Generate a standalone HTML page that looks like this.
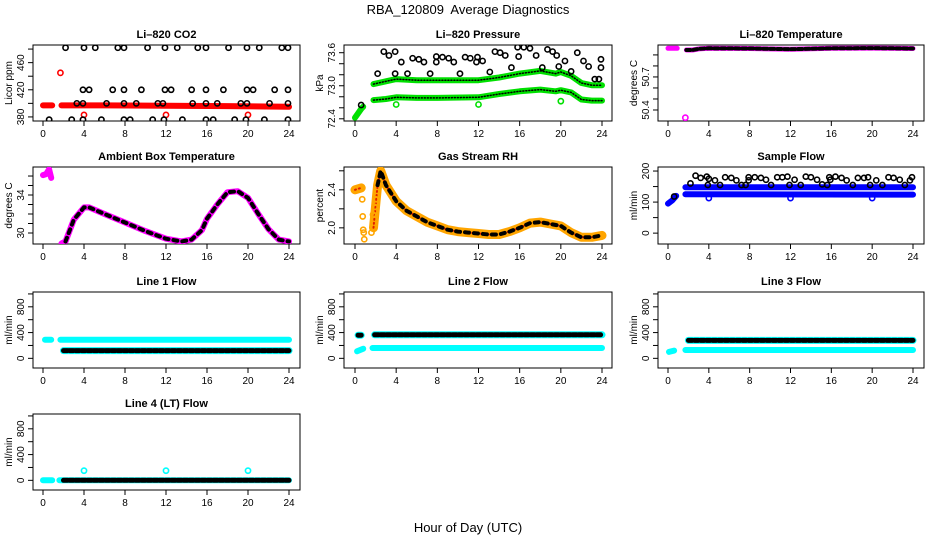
<!DOCTYPE html>
<html><head><meta charset="utf-8">
<style>
html,body{margin:0;padding:0;background:#fff;}
svg{display:block;font-family:"Liberation Sans",sans-serif;}
</style></head>
<body>
<svg id="c" width="936" height="540" viewBox="0 0 936 540">
<text x="468" y="14" text-anchor="middle" font-size="13">RBA_120809&#160; Average Diagnostics</text>
<text x="468" y="532" text-anchor="middle" font-size="13">Hour of Day (UTC)</text>
</svg>
<script>
// ---- data ----
const xTicks = [0,4,8,12,16,20,24];
// CO2
const co2RedH = [0,0.9,null,1.8,6,12,18,24];
const co2RedV = [397,397,null,397,397,396.5,396,395];
const co2RedOutH = [1.7,4,12,20];
const co2RedOutV = [445,383,383,383];
const co2BlkH = [2.2,4,5.1,7.3,7.9,10.2,11.9,13.1,15.1,15.9,18.1,19.9,21.1,23.3,23.9, 3.9,4.5,6.8,7.9,9.6,11.9,12.5,14.5,15.9,17.6,19.9,20.5,22.6,23.9, 3.3,3.9,6.2,7.9,9.1,11.2,11.7,14.6,15.9,17,19.3,19.9,22.1,23.9, 0.6,2.8,3.9,5.7,7.9,8.5,10.7,11.8,13.6,15.9,16.6,18.7,19.8,21.6,23.9];
const co2BlkV = [482,482,482,482,482,482,482,482,482,482,482,482,482,482,482, 420,420,420,420,420,420,420,420,420,420,420,420,420,420, 400,400,400,400,400,400,400,400,400,400,400,400,400,400, 376,376,376,376,376,376,376,376,376,376,376,376,376,376,376];
// Pressure
const prUpH = [0,0.3,0.6,0.8,null,1.8,3,4,6,8,12,14,16,18,19.5,20,21,22,23,24];
const prUpV = [72.42,72.5,72.58,72.62,null,73.03,73.08,73.12,73.1,73.1,73.1,73.15,73.22,73.27,73.22,73.25,73.18,73.05,73.01,73.01];
const prLoH = [1.8,3,4,6,8,12,14,16,18,19.5,20,21,22,23,24];
const prLoV = [72.74,72.76,72.79,72.78,72.78,72.79,72.85,72.9,72.93,72.9,72.92,72.88,72.75,72.73,72.73];
const prBlkH = [0.6,2.2,2.8,3.3,3.9,3.9,4.5,5.1,5.6,6.2,6.7,7.3,7.9,7.9,8.5,9.1,9.6,10.2,10.7,11.2,11.8,11.9,12.4,13.1,13.6,14.1,14.6,15.2,15.8,15.9,16.4,17,17.6,18.2,18.7,19.2,19.6,19.8,20.4,21,21.6,22.2,22.7,23.3,23.7,23.9,23.9];
const prBlkV = [72.65,73.22,73.62,73.55,73.62,73.22,73.43,73.22,73.5,73.48,73.43,73.22,73.53,73.43,73.52,73.5,73.43,73.22,73.52,73.5,73.43,73.52,73.45,73.25,73.62,73.6,73.55,73.33,73.7,73.53,73.7,73.68,73.55,73.33,73.66,73.62,73.55,73.35,73.45,73.26,73.6,73.45,73.35,73.12,73.12,73.33,73.48];
const prGrnOutH = [4,12,20];
const prGrnOutV = [72.66,72.66,72.72];
// Li-820 temperature
const tmpH = [0,0.9,null,1.8,2.4,3,4,8,12,16,20,24];
const tmpV = [50.96,50.96,null,50.945,50.945,50.955,50.96,50.958,50.952,50.96,50.962,50.958];
const tmpOutH = [1.7];
const tmpOutV = [50.33];
// Ambient box temperature
const ambH = [0,0.3,0.6,0.8,null,1.8,2.2,3,4,4.5,6,8,10,12,13.5,14.5,15.5,16,17,18,19,20,21,22,23,24];
const ambV = [36.1,36.2,36.7,35.8,null,28.9,29.1,31.4,32.7,32.7,32.0,31.1,30.2,29.4,29.1,29.3,30.3,31.5,33.0,34.3,34.4,33.7,32.0,30.4,29.3,29.1];
// Gas stream RH
const rhH = [0,0.6,null,1.8,2.2,2.5,3,4,5,6,7,8,9,10,11,12,13,14,15,16,17,18,19,20,21,22,23,24];
const rhV = [2.4,2.42,null,2.0,2.45,2.6,2.45,2.28,2.18,2.12,2.06,2.02,1.98,1.96,1.95,1.94,1.93,1.93,1.96,2.0,2.05,2.06,2.04,2.02,1.95,1.9,1.9,1.92];
const rhScatH = [0.7,0.75,0.8,0.85,0.9,1.6,1.75,1.9,2.0];
const rhScatV = [2.3,2.12,1.98,1.95,1.88,1.95,2.14,2.22,2.3];
// Sample flow
const sfUpH = [0,0.4,0.8,null,1.7,24];
const sfUpV = [95,105,120,null,148,148];
const sfLoH = [1.7,24];
const sfLoV = [125,124];
const sfBlkH = [0.6,2.2,2.7,3.2,3.8,3.9,4.0,4.6,5.1,5.6,6.2,6.7,7.2,7.6,7.9,7.9,8.5,9.1,9.6,10.1,10.7,11.2,11.7,11.9,12.4,13,13.5,14,14.6,15.1,15.6,15.8,15.9,16.4,17,17.5,18.1,18.6,19.2,19.6,19.8,20.4,21,21.6,22.1,22.7,23.2,23.7,23.9];
const sfBlkV = [118,160,185,178,182,155,175,170,155,180,178,170,155,155,180,170,180,178,172,155,180,180,182,155,172,155,182,180,172,157,155,180,172,182,178,170,155,178,178,180,155,170,155,180,178,172,155,170,180];
const sfOutH = [4,12,20];
const sfOutV = [113,113,113];
// Line flows
const l1CyanH = [0.2,0.8,null,1.7,24];
const l1CyanV = [290,290,null,290,290];
const l1BlkH = [0.5,null,2,24];
const l1BlkV = [120,null,120,120];
const l2CyanH = [0.2,0.8,null,1.7,24];
const l2CyanV = [110,150,null,160,160];
const l2BlkH = [0.3,0.6,null,1.9,24];
const l2BlkV = [360,360,null,365,365];
const l3CyanH = [0.1,0.6,null,1.7,24];
const l3CyanV = [100,120,null,130,130];
const l3BlkH = [0.5,null,2,24];
const l3BlkV = [275,null,278,278];
const l4CyanH = [0,0.9,null,1.6,24];
const l4CyanV = [0,0,null,0,0];
const l4BlkH = [0.5,null,2,24];
const l4BlkV = [0,null,0,0];
const l4OutH = [4,12,20];
const l4OutV = [150,150,150];

// ---- layout ----
const svg = document.getElementById('c');
const NS = 'http://www.w3.org/2000/svg';
const cols = [{L:33,R:300,x0:43,x24:289},{L:344,R:612,x0:355,x24:602},{L:658,R:924,x0:668,x24:913}];
const rows = [{T:45,B:121},{T:167,B:244},{T:292,B:368},{T:414,B:490}];

function mk(tag, attrs, parent){
  const e = document.createElementNS(NS, tag);
  for (const k in attrs) e.setAttribute(k, attrs[k]);
  (parent||svg).appendChild(e);
  return e;
}

function panel(name, title, ylab, col, row, ymin, ymax, yticks, ylabels){
  const c = cols[col], r = rows[row];
  const g = mk('g', {});
  
  
  const sx = h => c.x0 + (c.x24 - c.x0) * h / 24;
  const sy = v => r.B - (r.B - r.T) * (v - ymin) / (ymax - ymin);
  const box = mk('rect', {x:c.L, y:r.T, width:c.R-c.L, height:r.B-r.T, fill:'none', stroke:'#000', 'stroke-width':1}, g);
  
  
  const t = mk('text', {x:(c.L+c.R)/2, y:r.T-7, 'text-anchor':'middle', 'font-size':11, 'font-weight':'bold'}, g);
  t.textContent = title;
  
  
  const xa = mk('g', {}, g);
  
  
  xTicks.forEach(h => {
    mk('line', {x1:sx(h), x2:sx(h), y1:r.B, y2:r.B+5, stroke:'#000'}, xa);
    const tl = mk('text', {x:sx(h), y:r.B+16, 'text-anchor':'middle', 'font-size':10}, xa);
    tl.textContent = h;
  });
  const ya = mk('g', {}, g);
  
  
  yticks.forEach((v,i) => {
    mk('line', {x1:c.L-5, x2:c.L, y1:sy(v), y2:sy(v), stroke:'#000'}, ya);
    if (ylabels[i] !== '') {
      const tl = mk('text', {x:c.L-9, y:sy(v), 'text-anchor':'middle', 'font-size':10, transform:`rotate(-90 ${c.L-9} ${sy(v)})`}, ya);
      tl.textContent = ylabels[i];
    }
  });
  const yl = mk('text', {x:c.L-21, y:(r.T+r.B)/2, 'text-anchor':'middle', 'font-size':10, transform:`rotate(-90 ${c.L-21} ${(r.T+r.B)/2})`}, g);
  yl.textContent = ylab;
  
  
  const clip = 'clip-' + name;
  const cp = mk('clipPath', {id:clip}, g);
  mk('rect', {x:c.L, y:r.T, width:c.R-c.L, height:r.B-r.T}, cp);
  const plot = mk('g', {'clip-path':`url(#${clip})`}, g);
  return {sx, sy, plot, name};
}

function band(p, hs, vs, color, w, sname, dash){
  let d = '', pen = false;
  hs.forEach((h,i) => {
    if (h === null) { pen = false; return; }
    d += (pen ? 'L' : 'M') + p.sx(h).toFixed(1) + ' ' + p.sy(vs[i]).toFixed(1) + ' ';
    pen = true;
  });
  const a = {d, fill:'none', stroke:color, 'stroke-width':w, 'stroke-linecap':'round', 'stroke-linejoin':'round'};
  if (dash) a['stroke-dasharray'] = dash;
  const e = mk('path', a, p.plot);
  
  
  return e;
}
function pts(p, hs, vs, color, sname){
  hs.forEach((h,i) => {
    const e = mk('circle', {cx:p.sx(h), cy:p.sy(vs[i]), r:2.6, fill:'none', stroke:color, 'stroke-width':1.6}, p.plot);
    
    
  });
}

// CO2
let p = panel('co2-panel','Li\u2013820 CO2','Licor ppm',0,0,374,486,[380,400,420,440,460,480],['380','','420','','460','']);
band(p, co2RedH, co2RedV, '#f00', 6, 'co2-red-series');
pts(p, co2RedOutH, co2RedOutV, '#f00', 'co2-red-point');
pts(p, co2BlkH, co2BlkV, '#000', 'co2-black-point');

// Pressure
p = panel('pressure-panel','Li\u2013820 Pressure','kPa',1,0,72.36,73.74,[72.4,72.6,72.8,73.0,73.2,73.4,73.6],['72.4','','','73.0','','','73.6']);
band(p, prUpH, prUpV, '#00e000', 6, 'pressure-green-upper');
band(p, prLoH, prLoV, '#00e000', 6, 'pressure-green-lower');
band(p, prUpH.slice(5), prUpV.slice(5), '#000', 1.5, 'pressure-upper-dots', '1 2');
band(p, prLoH, prLoV, '#000', 1.5, 'pressure-lower-dots', '1 2');
pts(p, prGrnOutH, prGrnOutV, '#00e000', 'pressure-green-point');
pts(p, prBlkH, prBlkV, '#000', 'pressure-black-point');

// Li-820 temperature
p = panel('li820-temp-panel','Li\u2013820 Temperature','degrees C',2,0,50.30,50.99,[50.4,50.5,50.6,50.7,50.8,50.9],['50.4','','','50.7','','']);
band(p, tmpH, tmpV, '#f0f', 5, 'li820-temp-magenta');
band(p, tmpH.slice(3), tmpV.slice(3), '#000', 4, 'li820-temp-black', '4 3');
pts(p, tmpOutH, tmpOutV, '#f0f', 'li820-temp-outlier');

// Ambient
p = panel('ambient-temp-panel','Ambient Box Temperature','degrees C',0,1,28.84,36.95,[30,31,32,33,34,35,36],['30','','','','34','','']);
band(p, ambH, ambV, '#f0f', 6, 'ambient-temp-magenta');
band(p, ambH.slice(6), ambV.slice(6), '#000', 4, 'ambient-temp-black', '4 5');

// RH
p = panel('gas-rh-panel','Gas Stream RH','percent',1,1,1.83,2.64,[2.0,2.2,2.4,2.6],['2.0','','2.4','']);
band(p, rhH, rhV, '#ffa500', 9, 'gas-rh-orange');
band(p, rhH, rhV, '#e02000', 2, 'gas-rh-red', '1 3');
pts(p, rhScatH, rhScatV, '#ffa500', 'gas-rh-scatter');
band(p, rhH.slice(4), rhV.slice(4), '#000', 4, 'gas-rh-black', '4 5');

// Sample flow
p = panel('sample-flow-panel','Sample Flow','ml/min',2,1,-35,213,[0,50,100,150,200],['0','','100','','200']);
band(p, sfUpH, sfUpV, '#0000ff', 6, 'sample-flow-upper');
band(p, sfLoH, sfLoV, '#0000ff', 6, 'sample-flow-lower');
pts(p, sfOutH, sfOutV, '#0000ff', 'sample-flow-blue-point');
pts(p, sfBlkH, sfBlkV, '#000', 'sample-flow-black-point');

const flowTicks = [0,200,400,600,800,1000];
const flowLabels = ['0','','400','','800',''];
p = panel('line1-flow-panel','Line 1 Flow','ml/min',0,2,-150,1030,flowTicks,flowLabels);
band(p, l1CyanH, l1CyanV, '#00ffff', 6, 'line1-cyan');
band(p, l1BlkH, l1BlkV, '#00ffff', 7, 'line1-cyan-under');
band(p, l1BlkH, l1BlkV, '#000', 5, 'line1-black', '4 2');
p = panel('line2-flow-panel','Line 2 Flow','ml/min',1,2,-150,1030,flowTicks,flowLabels);
band(p, l2CyanH, l2CyanV, '#00ffff', 6, 'line2-cyan');
band(p, l2BlkH, l2BlkV, '#00ffff', 7, 'line2-cyan-under');
band(p, l2BlkH, l2BlkV, '#000', 5, 'line2-black', '4 2');
p = panel('line3-flow-panel','Line 3 Flow','ml/min',2,2,-150,1030,flowTicks,flowLabels);
band(p, l3CyanH, l3CyanV, '#00ffff', 6, 'line3-cyan');
band(p, l3BlkH, l3BlkV, '#00ffff', 7, 'line3-cyan-under');
band(p, l3BlkH, l3BlkV, '#000', 5, 'line3-black', '4 2');
p = panel('line4-flow-panel','Line 4 (LT) Flow','ml/min',0,3,-150,1030,flowTicks,flowLabels);
band(p, l4CyanH, l4CyanV, '#00ffff', 6, 'line4-cyan');
band(p, l4BlkH, l4BlkV, '#000', 5, 'line4-black', '4 2');
pts(p, l4OutH, l4OutV, '#00ffff', 'line4-cyan-point');
</script>
</body></html>
